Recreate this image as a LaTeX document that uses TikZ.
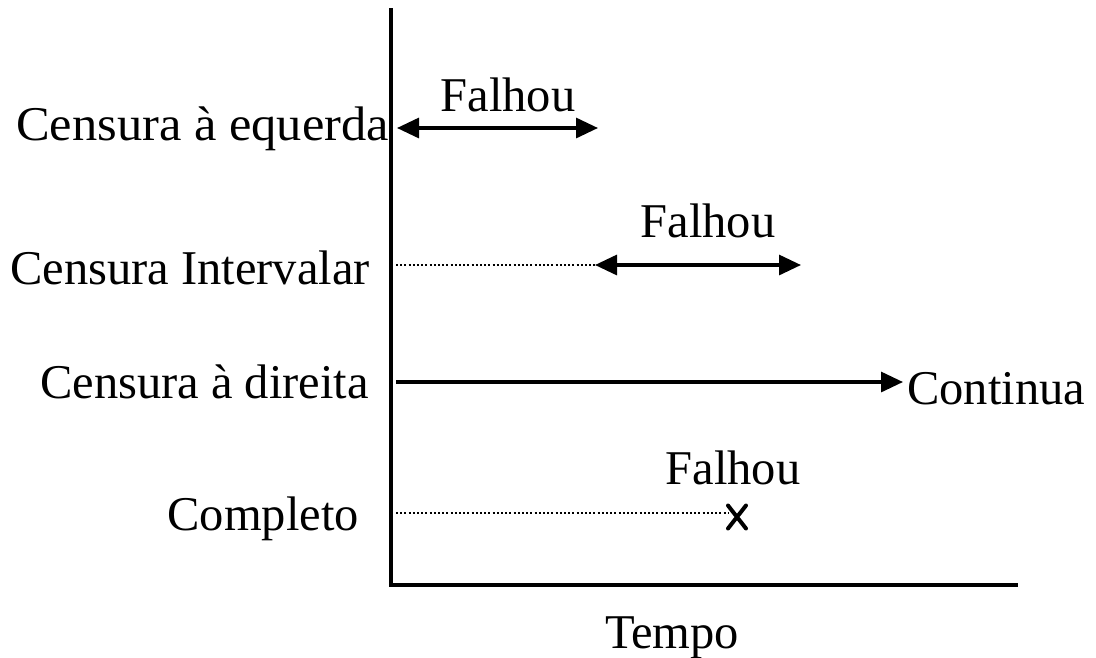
\documentclass[tikz,border=0pt]{standalone}
\usepackage{fontspec}
\setmainfont{Liberation Serif}
\usetikzlibrary{arrows.meta,shapes.misc}
\begin{document}
\begin{tikzpicture}[x=1pt,y=-1pt,
  lbl/.style={inner sep=0pt,font=\fontsize{48.5}{57}\selectfont},
  axisline/.style={line width=4.2pt},
  arr/.style={line width=3.2pt,-{Triangle[length=22pt,width=20pt]}},
  darr/.style={line width=3.2pt,{Triangle[length=22pt,width=20pt]}-{Triangle[length=22pt,width=20pt]}},
  dotline/.style={line width=2pt,dash pattern=on 2pt off 2.2pt},
  xmark/.style={cross out,draw,line width=4pt,minimum width=14pt,minimum height=19pt,inner sep=0pt,line cap=round}]
\useasboundingbox (0,0) rectangle (1096,657);
% axes
\coordinate (top) at (391,8);
\coordinate (origin) at (391,585);
\coordinate (xend) at (1018,585);
\draw[axisline] (top) -- (origin) -- (xend);
% labels
\node[lbl,anchor=base east] (l1) at (389,140) {\scalebox{1.04}[1]{Censura à equerda}};
\node[lbl,anchor=base east] (l2) at (370,284) {Censura Intervalar};
\node[lbl,anchor=base east] (l3) at (369,398) {Censura à direita};
\node[lbl,anchor=base east] (l4) at (359,530) {Completo};
\node[lbl,anchor=base] (tempo) at (672,648) {Tempo};
% row 1
\coordinate (a1) at (397,128);
\coordinate (b1) at (598,128);
\draw[darr] (a1) -- (b1);
\node[lbl,anchor=base] (f1) at (508,111) {Falhou};
% row 2
\coordinate (a2) at (396,265);
\coordinate (m2) at (595,265);
\coordinate (b2) at (801,265);
\draw[dotline] (a2) -- (m2);
\draw[darr] (m2) -- (b2);
\node[lbl,anchor=base] (f2) at (708,237) {Falhou};
% row 3
\coordinate (a3) at (396,382);
\coordinate (b3) at (903,382);
\draw[arr] (a3) -- (b3);
\node[lbl,anchor=base west] (cont) at (907,404) {Continua};
% row 4
\coordinate (a4) at (396,513);
\coordinate (b4) at (728,513);
\draw[dotline] (a4) -- (b4);
\node[xmark] (x) at (737,517) {};
\node[lbl,anchor=base] (f3) at (733,484) {Falhou};
\end{tikzpicture}
\end{document}
